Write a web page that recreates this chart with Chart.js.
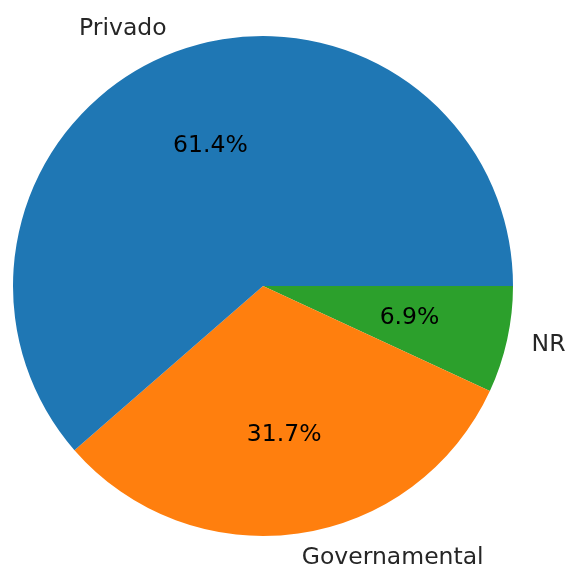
<!DOCTYPE html>
<html>
<head>
<meta charset="utf-8">
<script src="https://cdn.jsdelivr.net/npm/chart.js@4"></script>
<style>
  html, body { margin: 0; padding: 0; background: #fff; }
  #box { width: 566px; height: 568px; }
</style>
</head>
<body>
<div id="box"><canvas id="graficoPie"></canvas></div>
<script>
// datos (orden de matplotlib, antihorario desde las 3 en punto)
var categorias = ['Privado', 'Governamental', 'NR'];
var valores = [61.4, 31.7, 6.9];
var colores = ['#1f77b4', '#ff7f0e', '#2ca02c'];

// chart.js dibuja en sentido horario, asi que se invierte el orden
var cats = categorias.slice().reverse();
var vals = valores.slice().reverse();
var cols = colores.slice().reverse();

var fuente = '23.5px "DejaVu Sans"';

// etiquetas tipo matplotlib: nombre a 1.1 r, porcentaje a 0.6 r
var etiquetasPie = {
    id: 'etiquetasPie',
    afterDatasetsDraw: function (chart) {
        var ctx = chart.ctx;
        var meta = chart.getDatasetMeta(0);
        var total = vals.reduce(function (a, b) { return a + b; }, 0);
        ctx.save();
        ctx.font = fuente;
        ctx.textBaseline = 'middle';
        meta.data.forEach(function (arc, i) {
            var p = arc.getProps(['x', 'y', 'startAngle', 'endAngle', 'outerRadius'], true);
            var ang = (p.startAngle + p.endAngle) / 2;
            var cx = Math.cos(ang), cy = Math.sin(ang);
            // porcentaje
            ctx.textAlign = 'center';
            ctx.fillStyle = '#000';
            ctx.fillText((vals[i] / total * 100).toFixed(1) + '%', p.x + cx * p.outerRadius * 0.6, p.y + cy * p.outerRadius * 0.6);
            // nombre
            ctx.textAlign = cx >= 0 ? 'left' : 'right';
            ctx.fillStyle = '#262626';
            ctx.fillText(cats[i], p.x + cx * p.outerRadius * 1.1, p.y + cy * p.outerRadius * 1.1);
        });
        ctx.restore();
    }
};

var ctx = document.getElementById('graficoPie').getContext('2d');
var chart = new Chart(ctx, {
    type: 'pie',
    data: {
        labels: cats,
        datasets: [{
            data: vals,
            backgroundColor: cols,
            borderWidth: 0
        }]
    },
    options: {
        responsive: true,
        maintainAspectRatio: false,
        animation: false,
        rotation: 90,
        layout: { padding: { left: 13, right: 53, top: 36, bottom: 32 } },
        plugins: {
            legend: { display: false },
            tooltip: { enabled: false }
        }
    },
    plugins: [etiquetasPie]
});
</script>
</body>
</html>
